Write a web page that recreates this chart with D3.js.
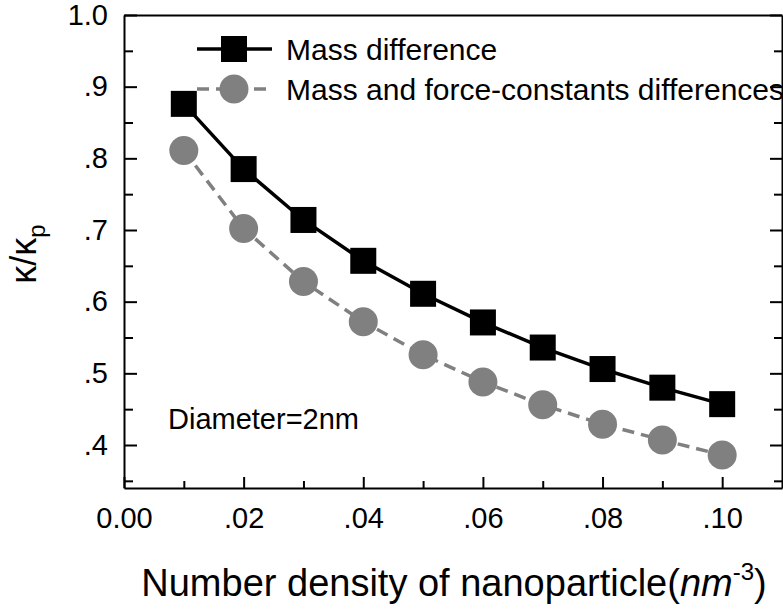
<!DOCTYPE html>
<html>
<head>
<meta charset="utf-8">
<script src="https://cdn.jsdelivr.net/npm/d3@7"></script>
<style>
  body { margin: 0; background: #fff; }
  svg { font-family: "Liberation Sans", Arial, sans-serif; }
  .axis path, .axis line { stroke: #000; stroke-width: 2; }
  .axis text { fill: #000; }
</style>
</head>
<body>
<div id="chart"></div>
<script>
const density = [0.01, 0.02, 0.03, 0.04, 0.05, 0.06, 0.07, 0.08, 0.09, 0.10];
const massDiff = [0.876, 0.785, 0.714, 0.657, 0.611, 0.571, 0.536, 0.506, 0.480, 0.457];
const massForceDiff = [0.811, 0.702, 0.628, 0.572, 0.526, 0.488, 0.456, 0.429, 0.407, 0.386];

const xTicks = [0, 0.02, 0.04, 0.06, 0.08, 0.10];
const xTickLabels = ["0.00", ".02", ".04", ".06", ".08", ".10"];
const xMinor = [0.01, 0.03, 0.05, 0.07, 0.09];
const yTicks = [0.4, 0.5, 0.6, 0.7, 0.8, 0.9, 1.0];
const yTickLabels = [".4", ".5", ".6", ".7", ".8", ".9", "1.0"];
const yMinor = [0.35, 0.45, 0.55, 0.65, 0.75, 0.85, 0.95];
const seriesNames = ["Mass difference", "Mass and force-constants differences"];

const margin = { top: 15, right: 1, bottom: 121, left: 124 };
const width = 783 - margin.left - margin.right;
const height = 609 - margin.top - margin.bottom;

const svg = d3.select("#chart")
  .append("svg")
  .attr("width", 783)
  .attr("height", 609);

const g = svg.append("g")
  .attr("transform", `translate(${margin.left},${margin.top})`);

const x = d3.scaleLinear().domain([0, 0.11]).range([0, width]);
const y = d3.scaleLinear().domain([0.34, 1.0]).range([height, 0]);

// bottom axis, ticks point inward
g.append("g")
  .attr("class", "axis")
  .attr("transform", `translate(0,${height})`)
  .call(d3.axisBottom(x).tickValues(xTicks).tickSizeInner(-11).tickSizeOuter(0)
    .tickPadding(40).tickFormat((d, i) => xTickLabels[i]))
  .call(a => a.selectAll("text").attr("font-size", 29).attr("dy", 0));
g.append("g")
  .attr("class", "axis")
  .attr("transform", `translate(0,${height})`)
  .call(d3.axisBottom(x).tickValues(xMinor).tickSizeInner(-7).tickSizeOuter(0).tickFormat(""))
  .call(a => a.select(".domain").remove());

// left axis
g.append("g")
  .attr("class", "axis")
  .call(d3.axisLeft(y).tickValues(yTicks).tickSizeInner(-13).tickSizeOuter(0)
    .tickPadding(16).tickFormat((d, i) => yTickLabels[i]))
  .call(a => a.selectAll("text").attr("font-size", 29));
g.append("g")
  .attr("class", "axis")
  .call(d3.axisLeft(y).tickValues(yMinor).tickSizeInner(-9).tickSizeOuter(0).tickFormat(""))
  .call(a => a.select(".domain").remove());

// right axis
g.append("g")
  .attr("class", "axis")
  .attr("transform", `translate(${width},0)`)
  .call(d3.axisRight(y).tickValues(yTicks).tickSizeInner(-12).tickSizeOuter(0).tickFormat(""));
g.append("g")
  .attr("class", "axis")
  .attr("transform", `translate(${width},0)`)
  .call(d3.axisRight(y).tickValues(yMinor).tickSizeInner(-8).tickSizeOuter(0).tickFormat(""))
  .call(a => a.select(".domain").remove());

// top edge
g.append("g")
  .attr("class", "axis")
  .call(d3.axisTop(x).tickValues([]).tickSizeOuter(0));

const line = d3.line()
  .x((d, i) => x(density[i]))
  .y(d => y(d));

g.append("path")
  .datum(massForceDiff)
  .attr("fill", "none")
  .attr("stroke", "#808080")
  .attr("stroke-width", 3.5)
  .attr("stroke-dasharray", "12,7")
  .attr("d", line);

g.append("path")
  .datum(massDiff)
  .attr("fill", "none")
  .attr("stroke", "#000")
  .attr("stroke-width", 3.5)
  .attr("d", line);

g.selectAll(".circ")
  .data(massForceDiff)
  .enter().append("circle")
  .attr("class", "circ")
  .attr("cx", (d, i) => x(density[i]))
  .attr("cy", d => y(d))
  .attr("r", 14.5)
  .attr("fill", "#808080");

g.selectAll(".sq")
  .data(massDiff)
  .enter().append("rect")
  .attr("class", "sq")
  .attr("x", (d, i) => x(density[i]) - 13)
  .attr("y", d => y(d) - 13)
  .attr("width", 26)
  .attr("height", 26)
  .attr("fill", "#000");

// legend
const legend = svg.append("g").attr("transform", "translate(197,49)");
legend.append("line")
  .attr("x1", 0).attr("x2", 75).attr("y1", 0).attr("y2", 0)
  .attr("stroke", "#000").attr("stroke-width", 3.5);
legend.append("rect")
  .attr("x", 37 - 13).attr("y", -13).attr("width", 26).attr("height", 26)
  .attr("fill", "#000");
legend.append("text")
  .attr("x", 89).attr("y", 0).attr("dy", "0.35em")
  .attr("font-size", 30)
  .text(seriesNames[0]);

legend.append("line")
  .attr("x1", 0).attr("x2", 75).attr("y1", 40).attr("y2", 40)
  .attr("stroke", "#808080").attr("stroke-width", 3.5)
  .attr("stroke-dasharray", "12,7");
legend.append("circle")
  .attr("cx", 37).attr("cy", 40).attr("r", 14.5)
  .attr("fill", "#808080");
legend.append("text")
  .attr("x", 89).attr("y", 40).attr("dy", "0.35em")
  .attr("font-size", 30)
  .text(seriesNames[1]);

// annotation
svg.append("text")
  .attr("x", 168).attr("y", 429)
  .attr("font-size", 29)
  .text("Diameter=2nm");

// x title
const xt = svg.append("text")
  .attr("x", 454).attr("y", 596)
  .attr("text-anchor", "middle")
  .attr("font-size", 38);
xt.append("tspan").text("Number density of nanoparticle(");
xt.append("tspan").attr("font-style", "italic").text("nm");
xt.append("tspan").attr("font-size", 24).attr("dy", -16).text("-3");
xt.append("tspan").attr("dy", 16).text(")");

// y title
const yt = svg.append("text")
  .attr("transform", "translate(36,254) rotate(-90)")
  .attr("text-anchor", "middle")
  .attr("font-size", 36);
yt.append("tspan").text("κ/κ");
yt.append("tspan").attr("font-size", 24).attr("dy", 9).text("p");
</script>
</body>
</html>
